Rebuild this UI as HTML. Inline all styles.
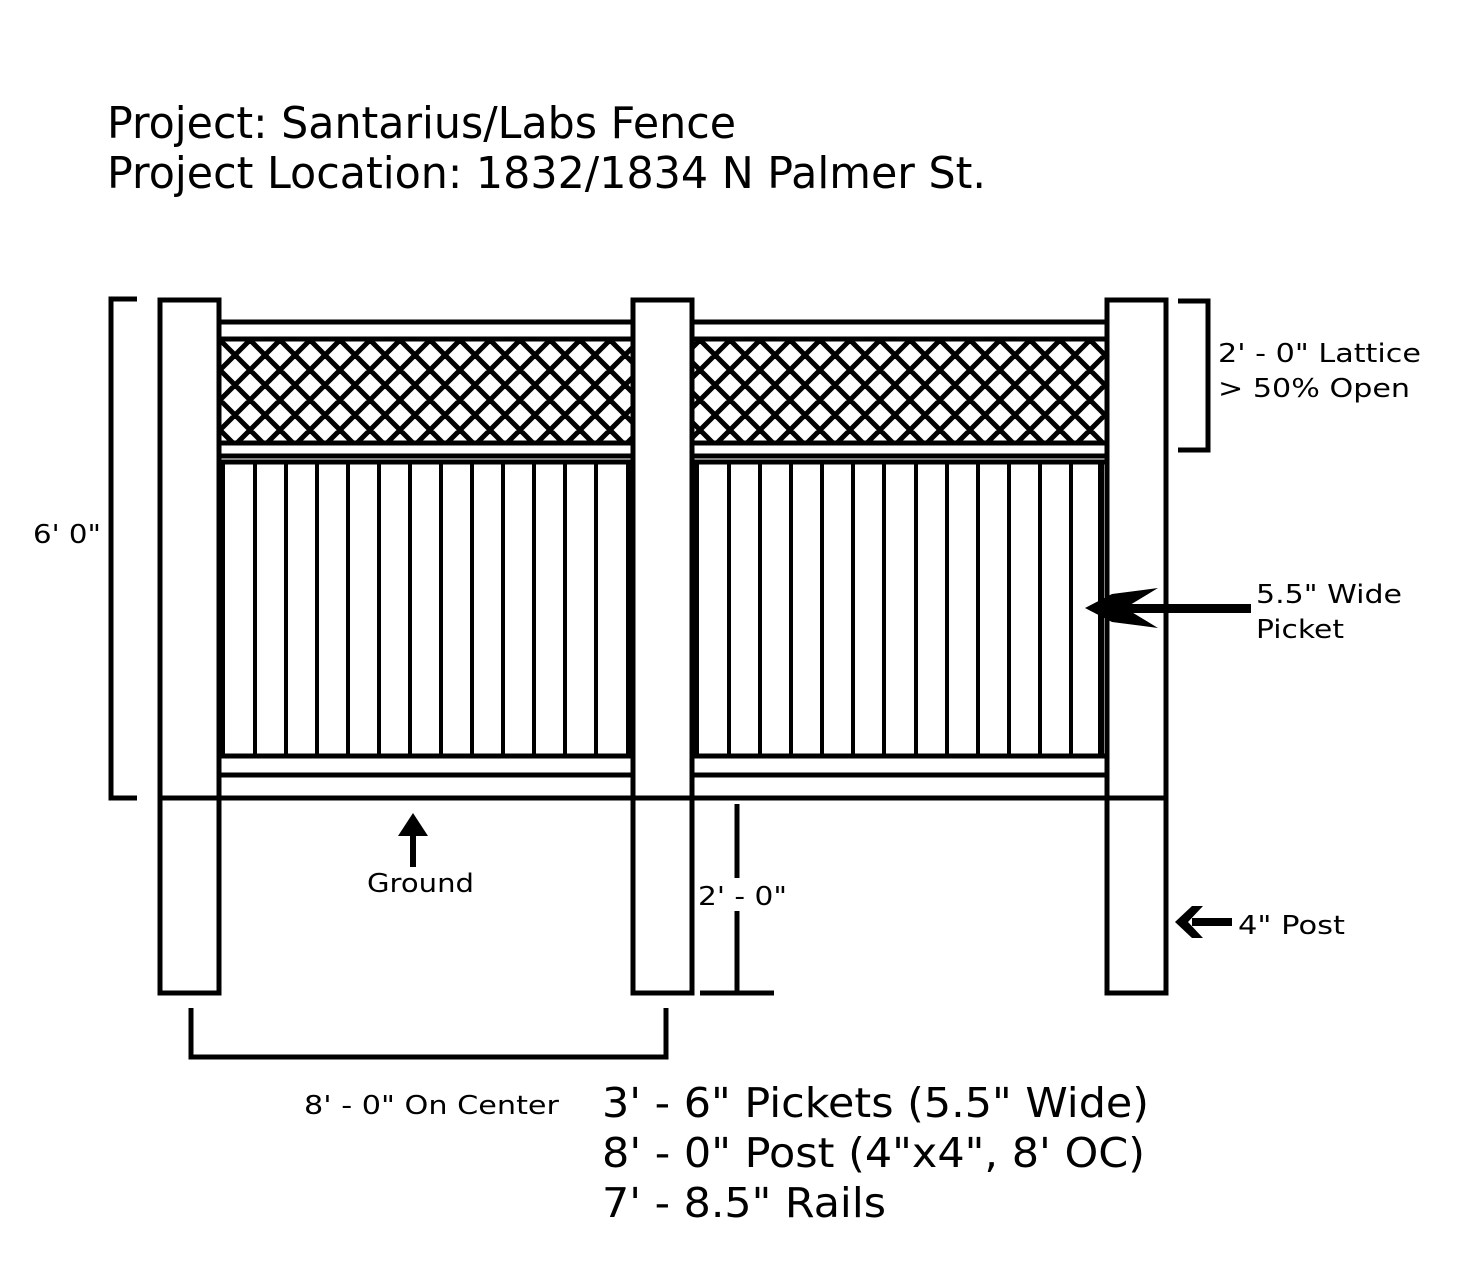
<!DOCTYPE html>
<html><head><meta charset="utf-8"><style>
html,body{margin:0;padding:0;background:#fff;}
svg{display:block;}
text{font-family:"DejaVu Sans","Liberation Sans",sans-serif;fill:#000;}
</style></head><body>
<svg width="1469" height="1278" viewBox="0 0 1469 1278" xmlns="http://www.w3.org/2000/svg">
<defs>
<clipPath id="c1"><rect x="221" y="340" width="410" height="102"/></clipPath>
<clipPath id="c2"><rect x="694" y="340" width="411" height="102"/></clipPath>
</defs>
<rect width="1469" height="1278" fill="#fff"/>
<text x="107" y="138" font-size="44" textLength="629" lengthAdjust="spacingAndGlyphs">Project: Santarius/Labs Fence</text>
<text x="107" y="188" font-size="44" textLength="879" lengthAdjust="spacingAndGlyphs">Project Location: 1832/1834 N Palmer St.</text>

<!-- lattice -->
<g stroke="#000" stroke-width="5" clip-path="url(#c1)">
<path id="lat" d="M100,340 l120,120 M130,340 l120,120 M160,340 l120,120 M190,340 l120,120 M220,340 l120,120 M250,340 l120,120 M280,340 l120,120 M310,340 l120,120 M340,340 l120,120 M370,340 l120,120 M400,340 l120,120 M430,340 l120,120 M460,340 l120,120 M490,340 l120,120 M520,340 l120,120 M550,340 l120,120 M580,340 l120,120 M610,340 l120,120 M640,340 l120,120 M670,340 l120,120 M700,340 l120,120 M730,340 l120,120 M760,340 l120,120 M790,340 l120,120 M820,340 l120,120 M850,340 l120,120 M880,340 l120,120 M910,340 l120,120 M940,340 l120,120 M970,340 l120,120 M1000,340 l120,120 M1030,340 l120,120 M1060,340 l120,120 M1090,340 l120,120 M1120,340 l120,120
M100,340 l-120,120 M130,340 l-120,120 M160,340 l-120,120 M190,340 l-120,120 M220,340 l-120,120 M250,340 l-120,120 M280,340 l-120,120 M310,340 l-120,120 M340,340 l-120,120 M370,340 l-120,120 M400,340 l-120,120 M430,340 l-120,120 M460,340 l-120,120 M490,340 l-120,120 M520,340 l-120,120 M550,340 l-120,120 M580,340 l-120,120 M610,340 l-120,120 M640,340 l-120,120 M670,340 l-120,120 M700,340 l-120,120 M730,340 l-120,120 M760,340 l-120,120 M790,340 l-120,120 M820,340 l-120,120 M850,340 l-120,120 M880,340 l-120,120 M910,340 l-120,120 M940,340 l-120,120 M970,340 l-120,120 M1000,340 l-120,120 M1030,340 l-120,120 M1060,340 l-120,120 M1090,340 l-120,120 M1120,340 l-120,120 M1150,340 l-120,120 M1180,340 l-120,120 M1210,340 l-120,120 M1240,340 l-120,120"/>
</g>
<g stroke="#000" stroke-width="5" clip-path="url(#c2)">
<use href="#lat"/>
</g>
<g stroke="#000" stroke-width="5" fill="none">
<line x1="219" y1="322" x2="1107" y2="322"/>
<line x1="219" y1="339" x2="1107" y2="339"/>
<line x1="219" y1="443" x2="1107" y2="443"/>
<line x1="219" y1="456" x2="1107" y2="456"/>
<line x1="219" y1="462" x2="1107" y2="462"/>
<line x1="219" y1="756" x2="1107" y2="756"/>
<line x1="219" y1="775" x2="1107" y2="775"/>
</g>
<!-- pickets -->
<g stroke="#000" stroke-width="4">
<line x1="222" y1="462" x2="222" y2="756" stroke-width="6"/>
<line x1="255" y1="462" x2="255" y2="756"/><line x1="286" y1="462" x2="286" y2="756"/><line x1="317" y1="462" x2="317" y2="756"/><line x1="348" y1="462" x2="348" y2="756"/><line x1="379" y1="462" x2="379" y2="756"/><line x1="410" y1="462" x2="410" y2="756"/><line x1="441" y1="462" x2="441" y2="756"/><line x1="472" y1="462" x2="472" y2="756"/><line x1="503" y1="462" x2="503" y2="756"/><line x1="534" y1="462" x2="534" y2="756"/><line x1="565" y1="462" x2="565" y2="756"/><line x1="596" y1="462" x2="596" y2="756"/>
<line x1="629" y1="462" x2="629" y2="756" stroke-width="6"/>
<line x1="696" y1="462" x2="696" y2="756" stroke-width="6"/>
<line x1="729" y1="462" x2="729" y2="756"/><line x1="760" y1="462" x2="760" y2="756"/><line x1="791" y1="462" x2="791" y2="756"/><line x1="822" y1="462" x2="822" y2="756"/><line x1="853" y1="462" x2="853" y2="756"/><line x1="884" y1="462" x2="884" y2="756"/><line x1="916" y1="462" x2="916" y2="756"/><line x1="947" y1="462" x2="947" y2="756"/><line x1="978" y1="462" x2="978" y2="756"/><line x1="1009" y1="462" x2="1009" y2="756"/><line x1="1040" y1="462" x2="1040" y2="756"/><line x1="1071" y1="462" x2="1071" y2="756"/>
<line x1="1101" y1="462" x2="1101" y2="756" stroke-width="6"/>
</g>
<!-- posts -->
<g stroke="#000" stroke-width="5" fill="#fff">
<rect x="160" y="300" width="59" height="693"/>
<rect x="633" y="300" width="59" height="693"/>
<rect x="1107" y="300" width="59" height="693"/>
</g>
<g stroke="#000" stroke-width="5" fill="none">
<line x1="160" y1="798" x2="1166" y2="798"/>
<polyline points="137,299 111,299 111,798 137,798"/>
<polyline points="1178,301 1208,301 1208,450 1178,450"/>
<polyline points="191,1008 191,1057 666,1057 666,1008"/>
<line x1="737" y1="804" x2="737" y2="878"/>
<line x1="737" y1="911" x2="737" y2="993"/>
<line x1="700" y1="993" x2="774" y2="993"/>
</g>
<!-- arrows -->
<g fill="#000">
<rect x="410" y="834" width="6" height="33"/>
<polygon points="413,813 398,836 428,836"/>
<rect x="1120" y="604" width="131" height="9"/>
<polygon points="1085,608 1112,594 1158,588 1125,608 1158,628 1112,622"/>
<rect x="1192" y="918" width="40" height="8"/>
<polygon points="1175,922 1192,906 1203,906 1188,922 1203,938 1192,938"/>
</g>
<g font-size="26">
<text x="33" y="543" textLength="68" lengthAdjust="spacingAndGlyphs">6' 0"</text>
<text x="1218" y="362" textLength="203" lengthAdjust="spacingAndGlyphs">2' - 0" Lattice</text>
<text x="1218" y="397" textLength="192" lengthAdjust="spacingAndGlyphs">&gt; 50% Open</text>
<text x="1256" y="603" textLength="146" lengthAdjust="spacingAndGlyphs">5.5" Wide</text>
<text x="1256" y="638" textLength="88" lengthAdjust="spacingAndGlyphs">Picket</text>
<text x="367" y="892" textLength="107" lengthAdjust="spacingAndGlyphs">Ground</text>
<text x="698" y="905" textLength="89" lengthAdjust="spacingAndGlyphs">2' - 0"</text>
<text x="1238" y="934" textLength="107" lengthAdjust="spacingAndGlyphs">4" Post</text>
<text x="304" y="1114" textLength="255" lengthAdjust="spacingAndGlyphs">8' - 0" On Center</text>
</g>
<g font-size="41">
<text x="602" y="1117" textLength="547" lengthAdjust="spacingAndGlyphs">3' - 6" Pickets (5.5" Wide)</text>
<text x="602" y="1167" textLength="543" lengthAdjust="spacingAndGlyphs">8' - 0" Post (4"x4", 8' OC)</text>
<text x="602" y="1217" textLength="284" lengthAdjust="spacingAndGlyphs">7' - 8.5" Rails</text>
</g>
</svg>
</body></html>
